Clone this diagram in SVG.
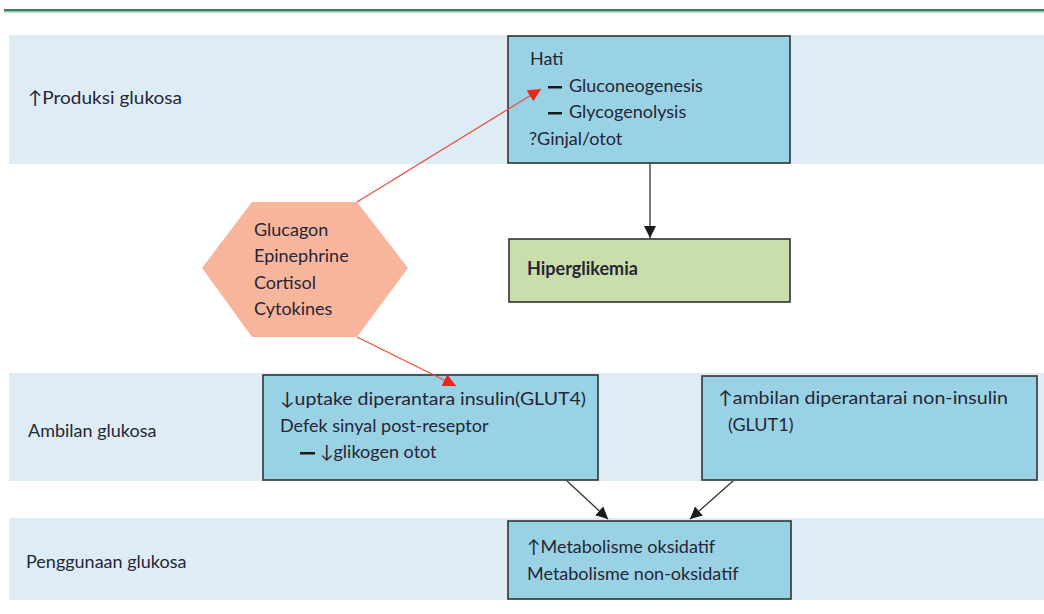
<svg xmlns="http://www.w3.org/2000/svg" width="1044" height="614" viewBox="0 0 1044 614">
<defs>
<style>
.band{fill:#deedf5}
.box{fill:#99d2e4;stroke:#333;stroke-width:1.6}
.t{font-family:Lato,"Open Sans",sans-serif;font-size:18px;fill:#262636}
.b{font-weight:bold}
.blk{stroke:#333;stroke-width:1.3;fill:none}
.red{stroke:#ee4c3c;stroke-width:1.3;fill:none}
</style>
<marker id="ab" viewBox="0 0 10 10" refX="10" refY="5" markerWidth="12" markerHeight="12" markerUnits="userSpaceOnUse" orient="auto"><path d="M0,0L10,5L0,10z" fill="#1a1a1a"/></marker>
<marker id="ar" viewBox="0 0 10 10" refX="10" refY="5" markerWidth="13" markerHeight="13" markerUnits="userSpaceOnUse" orient="auto"><path d="M0,0L10,5L0,10z" fill="#e8261c"/></marker>
</defs>
<rect width="1044" height="614" fill="#fff"/>
<rect x="4" y="9" width="1040" height="2" fill="#3d7a5e"/>
<rect x="4" y="11" width="1040" height="1.5" fill="#8cc4a4"/>
<g id="bands">
<rect class="band" x="9" y="35" width="1035" height="129"/>
<rect class="band" x="9" y="373" width="1035" height="108"/>
<rect class="band" x="9" y="518" width="1035" height="82"/>
<text class="t" x="28" y="104" textLength="154" lengthAdjust="spacingAndGlyphs">↑Produksi glukosa</text>
<text class="t" x="28" y="437">Ambilan glukosa</text>
<text class="t" x="26" y="568">Penggunaan glukosa</text>
</g>
<g id="hati">
<rect class="box" x="508" y="36" width="282" height="127"/>
<text class="t" x="530" y="65">Hati</text>
<rect x="548" y="86" width="14" height="2.5" fill="#1a1a1a"/>
<text class="t" x="569" y="92">Gluconeogenesis</text>
<rect x="548" y="112" width="14" height="2.5" fill="#1a1a1a"/>
<text class="t" x="569" y="118">Glycogenolysis</text>
<text class="t" x="529" y="145">?Ginjal/otot</text>
</g>
<g id="hiper">
<rect x="509" y="239" width="281" height="63" fill="#c9deaa" stroke="#333" stroke-width="1.6"/>
<text class="t b" x="527" y="275">Hiperglikemia</text>
</g>
<g id="hormones">
<polygon points="252,202 357,202 408,268 357,337 252,337 202,268" fill="#f7b59c"/>
<text class="t" x="254" y="236">Glucagon</text>
<text class="t" x="254" y="262">Epinephrine</text>
<text class="t" x="254" y="289">Cortisol</text>
<text class="t" x="254" y="315">Cytokines</text>
</g>
<g id="glut4">
<rect class="box" x="263" y="375" width="335" height="105"/>
<text class="t" x="280" y="405" textLength="306" lengthAdjust="spacingAndGlyphs">↓uptake diperantara insulin(GLUT4)</text>
<text class="t" x="280" y="432">Defek sinyal post-reseptor</text>
<rect x="300" y="452" width="15" height="2.5" fill="#1a1a1a"/>
<text class="t" x="320" y="458">↓glikogen otot</text>
</g>
<g id="glut1">
<rect class="box" x="702" y="376" width="335" height="104"/>
<text class="t" x="718" y="404" textLength="290" lengthAdjust="spacingAndGlyphs">↑ambilan diperantarai non-insulin</text>
<text class="t" x="728" y="431">(GLUT1)</text>
</g>
<g id="metab">
<rect class="box" x="508" y="521" width="283" height="78"/>
<text class="t" x="527" y="553">↑Metabolisme oksidatif</text>
<text class="t" x="527" y="580">Metabolisme non-oksidatif</text>
</g>
<g id="connectors">
<line class="blk" x1="650" y1="163" x2="650" y2="238" marker-end="url(#ab)"/>
<line class="red" x1="357" y1="202" x2="541" y2="89" marker-end="url(#ar)"/>
<line class="red" x1="357" y1="337" x2="456" y2="386" marker-end="url(#ar)"/>
<line class="blk" x1="567" y1="481" x2="608" y2="519" marker-end="url(#ab)"/>
<line class="blk" x1="733" y1="481" x2="690" y2="519" marker-end="url(#ab)"/>
</g>
</svg>
